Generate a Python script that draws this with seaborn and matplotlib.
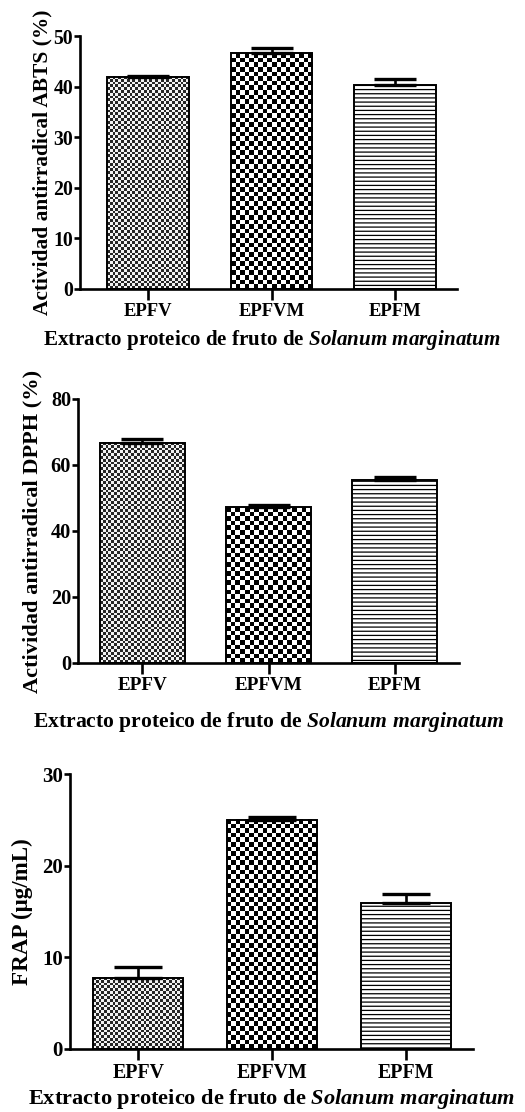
import numpy as np
import pandas as pd
import matplotlib
matplotlib.use("Agg")
import matplotlib.pyplot as plt
import seaborn as sns
from matplotlib.colors import ListedColormap

# ---------------- data ----------------
categories = ["EPFV", "EPFVM", "EPFM"]
abts_mean = [41.9, 46.6, 40.4]
abts_err = [0.2, 1.0, 1.2]
dpph_mean = [66.8, 47.2, 55.5]
dpph_err = [1.1, 0.6, 0.8]
frap_mean = [7.8, 25.0, 15.9]
frap_err = [1.1, 0.3, 1.0]
abts_ticks = [0, 10, 20, 30, 40, 50]
dpph_ticks = [0, 20, 40, 60, 80]
frap_ticks = [0, 10, 20, 30]
ylabels = ["Actividad antirradical ABTS (%)",
           "Actividad antirradical DPPH (%)",
           "FRAP (\u03bcg/mL)"]
xlabel = r"Extracto proteico de fruto de $\mathit{Solanum\ marginatum}$"

# ---------------- style ----------------
sns.set_theme(style="ticks")
plt.rcParams["font.family"] = ["Liberation Serif", "DejaVu Serif"]
plt.rcParams["font.weight"] = "bold"
plt.rcParams["mathtext.fontset"] = "custom"
plt.rcParams["mathtext.it"] = "Liberation Serif:italic:bold"
plt.rcParams["mathtext.rm"] = "Liberation Serif:bold"
plt.rcParams["mathtext.bf"] = "Liberation Serif:bold"
plt.rcParams["hatch.linewidth"] = 0.9
plt.rcParams["hatch.color"] = "#2a2a2a"

W, H = 525, 1112
fig = plt.figure(figsize=(W / 100, H / 100), dpi=100)


def px_axes(left, right, top, bottom):
    return fig.add_axes([left / W, 1 - bottom / H, (right - left) / W, (bottom - top) / H])


def checker(ax, patch, cell_px, colors):
    x0, w, h = patch.get_x(), patch.get_width(), patch.get_height()
    p0 = ax.transData.transform((x0, 0))
    p1 = ax.transData.transform((x0 + w, h))
    nx = max(1, int(round((p1[0] - p0[0]) / cell_px)))
    ny = max(1, int(round((p1[1] - p0[1]) / cell_px)))
    arr = np.add.outer(np.arange(ny), np.arange(nx)) % 2
    ax.imshow(arr, cmap=ListedColormap(colors), extent=(x0, x0 + w, 0, h),
              origin="lower", aspect="auto", interpolation="nearest",
              zorder=2.5)


panels = [
    dict(mean=abts_mean, err=abts_err, ticks=abts_ticks, ylabel=ylabels[0],
         box=(80, 457, 36, 289), xlim=(-0.55, 2.5), bw=0.66, cap=15,
         ylab_x=42, xlab_y=340, xlab_cx=271.5, xfs=15.1, yfs=15.4, xtfs=13.4, ytfs=14.2),
    dict(mean=dpph_mean, err=dpph_err, ticks=dpph_ticks, ylabel=ylabels[1],
         box=(78, 459, 399, 663), xlim=(-0.51, 2.51), bw=0.67, cap=15,
         ylab_x=32, xlab_y=722, xlab_cx=268, xfs=15.6, yfs=16.1, xtfs=13.8, ytfs=14.6),
    dict(mean=frap_mean, err=frap_err, ticks=frap_ticks, ylabel=ylabels[2],
         box=(70, 473, 774, 1049), xlim=(-0.51, 2.5), bw=0.67, cap=17,
         ylab_x=22, xlab_y=1099, xlab_cx=271.5, xfs=16.1, yfs=16.6, xtfs=14.3, ytfs=15.0),
]

for p in panels:
    ax = px_axes(*p["box"])
    df = pd.DataFrame({"cat": categories, "val": p["mean"]})
    sns.barplot(data=df, x="cat", y="val", ax=ax, width=p["bw"], color="white",
                saturation=1, edgecolor="black", linewidth=1.4, errorbar=None)
    ax.set_xlim(*p["xlim"])
    ax.set_ylim(0, p["ticks"][-1])
    bars = ax.patches
    for b in bars:
        b.set_zorder(3)
        b.set_facecolor("none")
    checker(ax, bars[0], 2.8, ["#f2f2f2", "#262626"])
    checker(ax, bars[1], 4.6, ["white", "black"])
    bars[2].set_hatch("----")
    ax.set_xlim(*p["xlim"])
    ax.set_ylim(0, p["ticks"][-1])
    ax.errorbar(np.arange(len(categories)), p["mean"],
                yerr=[np.zeros(len(categories)), p["err"]], fmt="none",
                ecolor="black", elinewidth=1.9, capsize=p["cap"], capthick=2.4,
                zorder=4, clip_on=False)
    ax.set_yticks(p["ticks"])
    sns.despine(ax=ax)
    for s in ("left", "bottom"):
        ax.spines[s].set_linewidth(1.9)
        ax.spines[s].set_color("black")
    ax.tick_params(axis="x", length=8, width=1.9, pad=2, labelsize=p["xtfs"], colors="black")
    ax.tick_params(axis="y", length=4, width=1.9, pad=1.0, labelsize=p["ytfs"], colors="black")
    for lab in ax.get_xticklabels() + ax.get_yticklabels():
        lab.set_fontweight("bold")
    ax.set_ylabel(p["ylabel"], fontsize=p["yfs"], fontweight="bold", color="black")
    ax.yaxis.label.set_va("center")
    ax.yaxis.set_label_coords(p["ylab_x"] / W,
                              1 - (p["box"][2] + p["box"][3]) / 2 / H,
                              transform=fig.transFigure)
    ax.set_xlabel(xlabel, fontsize=p["xfs"], fontweight="bold", color="black")
    ax.xaxis.label.set_va("center")
    ax.xaxis.set_label_coords(p["xlab_cx"] / W, 1 - p["xlab_y"] / H,
                              transform=fig.transFigure)
    ax.set_facecolor("white")

fig.savefig("out.png", dpi=100, facecolor="white")
